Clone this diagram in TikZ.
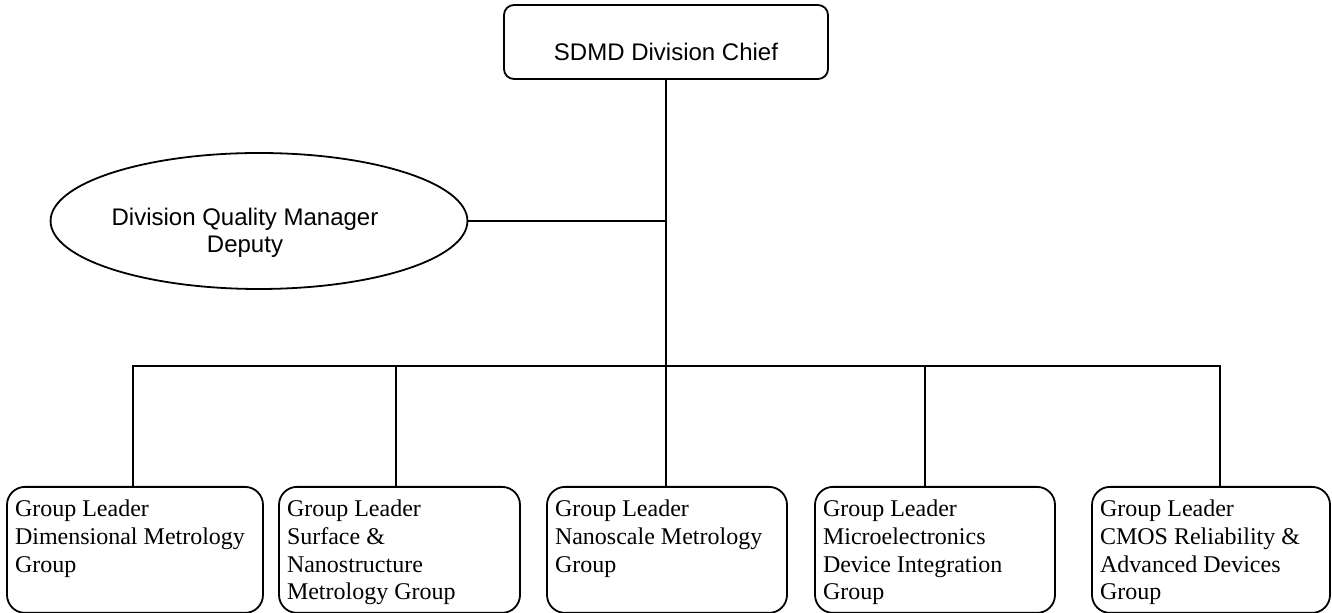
\documentclass[tikz,border=0pt]{standalone}
\usepackage{fontspec}
\setmainfont{Liberation Serif}
\setsansfont{Liberation Sans}
\usetikzlibrary{shapes.geometric}
\newcommand{\leadertext}[2]{\parbox[c][63pt][t]{#1}{\raggedright\rule{0pt}{15pt}#2}}
\tikzset{
    chiefbox/.style={
        draw,
        rounded corners=5pt,
        minimum width=162pt,
        minimum height=37pt,
        text height=20pt,
        text depth=1pt,
        font=\sffamily\fontsize{12}{14}\selectfont,
    },
    quality/.style={
        ellipse,
        draw,
        inner sep=0pt,
        minimum width=208pt,
        minimum height=68pt,
        align=center,
        font=\sffamily\fontsize{12}{13.3}\selectfont,
    },
    leader/.style={
        draw,
        rounded corners=9pt,
        anchor=north,
        inner xsep=4pt,
        inner ysep=0pt,
        font=\fontsize{12}{13.8}\selectfont,
    },
}
\begin{document}
\begin{tikzpicture}[x=0.5pt, y=-0.5pt, line width=0.9pt]
      \useasboundingbox (0,0) rectangle (1332,613);
      \node [chiefbox] (Chief) at (666,42) {SDMD Division Chief};
      \node [quality] (Quality) at (259,221) {\rule{0pt}{20.2pt}Division Quality Manager\hspace*{14pt}\\Deputy\hspace*{14pt}};

      \node [leader] (Dimensional) at (135,486) {\leadertext{120pt}{Group Leader\\Dimensional Metrology\\Group}};
      \node [leader] (Surface) at (399.5,486) {\leadertext{112.5pt}{Group Leader\\Surface \&\\Nanostructure\\Metrology Group}};
      \node [leader] (Nanoscale) at (667,486) {\leadertext{112pt}{Group Leader\\Nanoscale Metrology\\Group}};
      \node [leader] (Micro) at (935,486) {\leadertext{112pt}{Group Leader\\Microelectronics\\Device Integration\\Group}};
      \node [leader] (CMOS) at (1211,486) {\leadertext{111pt}{Group Leader\\CMOS Reliability \&\\Advanced Devices\\Group}};
      \coordinate (Bus) at (666,366);

      \draw (Chief.south) -- (Chief.south |- Nanoscale.north);
      \draw (Quality.east) -- (Quality.east -| Chief.south);
      \draw ([xshift=-1pt]Dimensional.north) |- (Bus) -| ([xshift=4.5pt]CMOS.north);
      \draw ([xshift=-1.75pt]Surface.north) |- (Bus);
      \draw ([xshift=-5pt]Micro.north) |- (Bus);
    \end{tikzpicture}
\end{document}
